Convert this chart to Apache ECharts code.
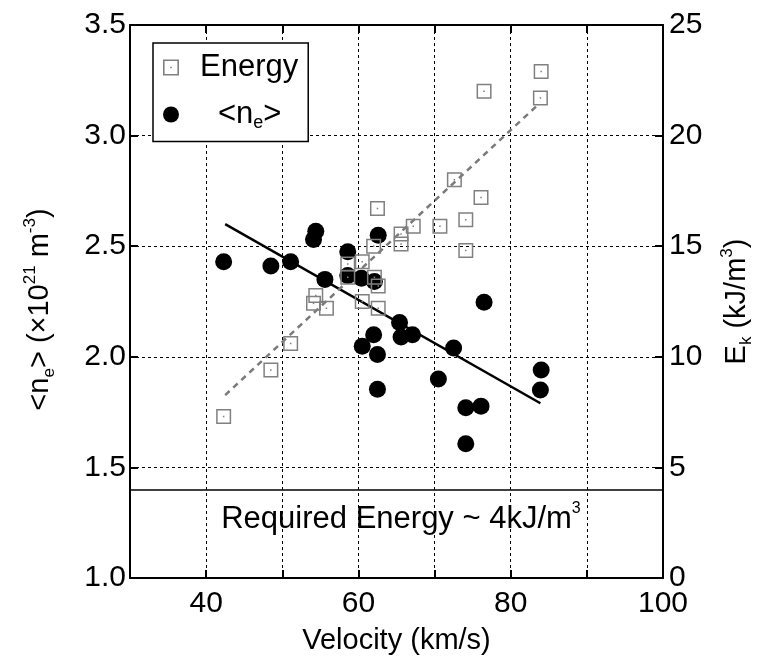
<!DOCTYPE html>
<html>
<head>
<meta charset="utf-8">
<script src="https://cdn.jsdelivr.net/npm/echarts@6/dist/echarts.min.js"></script>
<style>
  html, body { margin: 0; padding: 0; background: #fff; }
  #chart { width: 771px; height: 661px; }
</style>
</head>
<body>
<div id="chart"></div>
<script>
const FONT = '"Liberation Sans", Arial, Helvetica, sans-serif';

// Kinetic energy density E_k (kJ/m^3) versus velocity (km/s)
const energyVelocity = [42.3, 48.5, 51.1, 54.4, 54.1, 55.8, 58.6, 58.6, 60.5, 60.5, 62.0, 62.1, 62.6,
                        62.6, 62.5, 65.6, 65.6, 67.2, 70.7, 72.6, 74.1, 74.1, 76.1, 76.5, 84.0, 83.9];
const energyValues   = [7.3, 9.4, 10.6, 12.77, 12.42, 12.2, 14.2, 13.6, 14.3, 12.5, 15.0, 13.6, 13.2,
                        12.2, 16.7, 15.55, 15.1, 15.9, 15.9, 18.0, 16.2, 14.8, 17.2, 22.0, 22.9, 21.7];

// Mean electron density <n_e> (x10^21 m^-3) versus velocity (km/s)
const densityVelocity = [42.3, 48.5, 51.1, 54.4, 54.1, 55.6, 58.6, 58.6, 60.4, 62.1, 62.6, 65.4, 65.6,
                         67.1, 62.0, 60.5, 62.5, 62.5, 70.5, 72.5, 76.5, 74.1, 76.1, 74.1, 84.0, 83.9];
const densityValues   = [2.43, 2.41, 2.43, 2.568, 2.53, 2.35, 2.475, 2.367, 2.355, 2.34, 2.55, 2.155, 2.09,
                         2.10, 2.10, 2.048, 2.01, 1.853, 1.90, 2.04, 2.247, 1.77, 1.777, 1.607, 1.94, 1.85];

// Linear fits (end points)
const densityFitVelocity = [42.5, 83.9];
const densityFitValues   = [2.60, 1.79];
const energyFitVelocity  = [42.5, 83.6];
const energyFitValues    = [8.27, 21.4];

// Required energy threshold (4 kJ/m^3 on the right scale = 1.4 on the left scale)
const requiredDensityLevel = 1.4;

// Tick labels
const xTickLabels = [40, 60, 80, 100];
const leftTickLabels = ['1.0', '1.5', '2.0', '2.5', '3.0', '3.5'];
const rightTickLabels = ['0', '5', '10', '15', '20', '25'];

const zip = (a, b) => a.map((v, i) => [v, b[i]]);

const SQUARE_DOT = 'path://M0,0H20V20H0ZM2,2V18H18V2ZM9,9H11V11H9Z';

const baseText = { fontFamily: FONT, color: '#000' };
const richSubSup = {
  t: { fontFamily: FONT, fontSize: 29, color: '#000', lineHeight: 36 },
  s: { fontFamily: FONT, fontSize: 17, color: '#000', lineHeight: 17, verticalAlign: 'bottom' },
  p: { fontFamily: FONT, fontSize: 17, color: '#000', lineHeight: 17, verticalAlign: 'top' },
  e: { width: 16 }
};

const frameLine = { show: true, onZero: false, lineStyle: { color: '#000', width: 2 } };
const inTicks = { show: true, inside: true, length: 8, lineStyle: { color: '#000', width: 2 } };
const dashed = { show: true, lineStyle: { color: '#000', width: 1, type: [3, 3] } };

const chart = echarts.init(document.getElementById('chart'), null, { renderer: 'canvas' });

chart.setOption({
  backgroundColor: '#fff',
  animation: false,
  grid: { left: 130, right: 108, top: 25, bottom: 83, containLabel: false, outerBoundsMode: 'none' },
  legend: {
    data: ['Energy', '<n_e>'],
    orient: 'vertical',
    left: 153,
    top: 43,
    padding: [9, 10, 9, 10],
    itemGap: 16,
    itemWidth: 16,
    itemHeight: 16,
    backgroundColor: '#fff',
    borderColor: '#000',
    borderWidth: 1.5,
    borderRadius: 0,
    formatter: name => name === 'Energy'
      ? '{g|}{t|Energy}'
      : '{h|}{t|<n}{s|e}{t|>}',
    textStyle: {
      ...baseText,
      fontSize: 30,
      rich: {
        g: { width: 16 },
        h: { width: 34 },
        t: { fontFamily: FONT, fontSize: 31, color: '#000', lineHeight: 36 },
        s: { fontFamily: FONT, fontSize: 18, color: '#000', lineHeight: 18, verticalAlign: 'bottom' }
      }
    }
  },
  xAxis: [
    {
      type: 'value', position: 'bottom', min: 30, max: 100, interval: 10,
      axisLine: frameLine, axisTick: inTicks, splitLine: dashed,
      axisLabel: {
        ...baseText, fontSize: 30, margin: 11,
        formatter: v => (xTickLabels.indexOf(v) >= 0 ? String(v) : '')
      },
      name: 'Velocity (km/s)', nameLocation: 'middle', nameGap: 48,
      nameTextStyle: { ...baseText, fontSize: 29 }
    },
    {
      type: 'value', position: 'top', min: 30, max: 100, interval: 10,
      axisLine: frameLine, axisTick: inTicks, splitLine: { show: false },
      axisLabel: { show: false }
    }
  ],
  yAxis: [
    {
      type: 'value', position: 'left', min: 1.0, max: 3.5, interval: 0.5,
      axisLine: frameLine, axisTick: inTicks, splitLine: dashed,
      axisLabel: {
        ...baseText, fontSize: 30, margin: 4,
        formatter: v => leftTickLabels[Math.round((v - 1.0) / 0.5)]
      },
      name: '{t|<n}{s|e}{t|> (×10}{p|21}{t| m}{p|-3}{t|)}{e|}',
      nameLocation: 'middle', nameRotate: 90, nameGap: 72,
      nameTextStyle: { ...baseText, fontSize: 29, rich: richSubSup }
    },
    {
      type: 'value', position: 'right', min: 0, max: 25, interval: 5,
      axisLine: frameLine, axisTick: inTicks, splitLine: { show: false },
      axisLabel: {
        ...baseText, fontSize: 30, margin: 6,
        formatter: v => rightTickLabels[Math.round(v / 5)]
      },
      name: '{t|E}{s|k}{t| (kJ/m}{p|3}{t|)}',
      nameLocation: 'middle', nameRotate: 90, nameGap: 56,
      nameTextStyle: { ...baseText, fontSize: 29, rich: richSubSup }
    }
  ],
  series: [
    {
      name: 'densityFit', type: 'line', xAxisIndex: 0, yAxisIndex: 0,
      data: zip(densityFitVelocity, densityFitValues),
      showSymbol: false, symbol: 'none', silent: true, z: 1,
      lineStyle: { color: '#000', width: 2.5 }
    },
    {
      name: 'energyFit', type: 'line', xAxisIndex: 0, yAxisIndex: 1,
      data: zip(energyFitVelocity, energyFitValues),
      showSymbol: false, symbol: 'none', silent: true, z: 1,
      lineStyle: { color: '#7a7a7a', width: 2.5, type: [6, 5] }
    },
    {
      name: '<n_e>', type: 'scatter', xAxisIndex: 0, yAxisIndex: 0,
      data: zip(densityVelocity, densityValues),
      symbol: 'circle', symbolSize: 17, z: 2,
      itemStyle: { color: '#000', opacity: 1 },
      markLine: {
        silent: true, symbol: 'none', animation: false,
        label: { show: false },
        lineStyle: { color: '#000', width: 1.5, type: 'solid' },
        data: [{ yAxis: requiredDensityLevel }]
      }
    },
    {
      name: 'Energy', type: 'scatter', xAxisIndex: 0, yAxisIndex: 1,
      data: zip(energyVelocity, energyValues),
      symbol: SQUARE_DOT, symbolSize: 15, z: 3,
      itemStyle: { color: '#808080', opacity: 1 }
    }
  ],
  graphic: [
    {
      type: 'text', x: 401, y: 519, z: 10,
      style: {
        text: '{a|Required Energy ~ 4kJ/m}{b|3}',
        align: 'center', verticalAlign: 'middle',
        rich: {
          a: { fontFamily: FONT, fontSize: 31, color: '#000', lineHeight: 36 },
          b: { fontFamily: FONT, fontSize: 16, color: '#000', lineHeight: 16, verticalAlign: 'top' }
        }
      }
    }
  ]
});
</script>
</body>
</html>
